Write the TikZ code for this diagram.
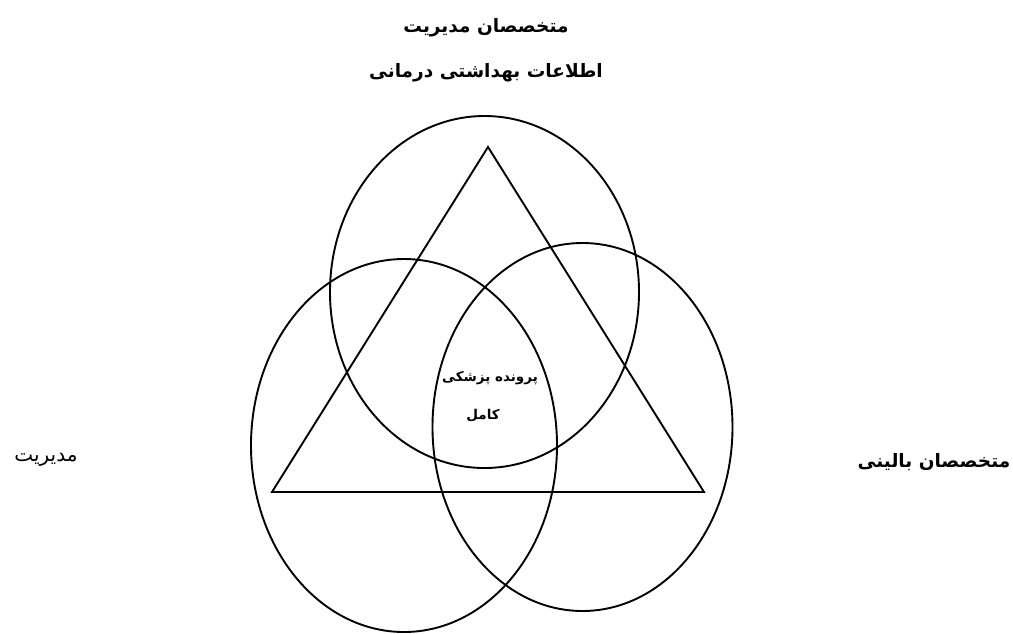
\documentclass[tikz,border=0pt]{standalone}
\usepackage{fontspec}
\usepackage{tikz}
\usetikzlibrary{shapes.geometric}
\TeXXeTstate=1
\newfontfamily\farsifont[Script=Arabic]{DejaVu Sans}
\tikzset{
  ring/.style   = {draw=black, line width=1.9pt, ellipse, inner sep=0pt},
  edge/.style   = {draw=black, line width=1.9pt, line join=miter},
  heading/.style= {font=\farsifont\bfseries\fontsize{18.5}{22}\selectfont, inner sep=1pt},
  core/.style   = {font=\farsifont\bfseries\fontsize{13.5}{16}\selectfont, inner sep=1pt},
  plain/.style  = {font=\farsifont\fontsize{20}{24}\selectfont, inner sep=1pt},
}
\begin{document}
\begin{tikzpicture}[x=1pt,y=-1pt]
\useasboundingbox (0,0) rectangle (1013,633);

% three overlapping fields
\node[ring, minimum width=309pt, minimum height=352pt] (him) at (484.5,292) {};
\node[ring, minimum width=306pt, minimum height=373pt] (mgmt) at (404,445.5) {};
\node[ring, minimum width=300pt, minimum height=368pt] (clin) at (582.5,427) {};

% triangle
\coordinate (apex) at (488,147);
\coordinate (baseL) at (272,492);
\coordinate (baseR) at (704,492);
\draw[edge] (apex) -- (baseL) -- (baseR) -- cycle;

% labels
\node[heading] (himA) at (486,28) {\beginR متخصصان مدیریت\endR};
\node[heading] (himB) at (486,73) {\beginR اطلاعات بهداشتی درمانی\endR};
\node[core] (recA) at (490,378) {\beginR پرونده پزشکی\endR};
\node[core] (recB) at (483,416) {\beginR کامل\endR};
\node[plain] (mgmtL) at (46,460) {\beginR مدیریت\endR};
\node[heading] (clinL) at (934,462) {\beginR متخصصان بالینی\endR};

\end{tikzpicture}
\end{document}
